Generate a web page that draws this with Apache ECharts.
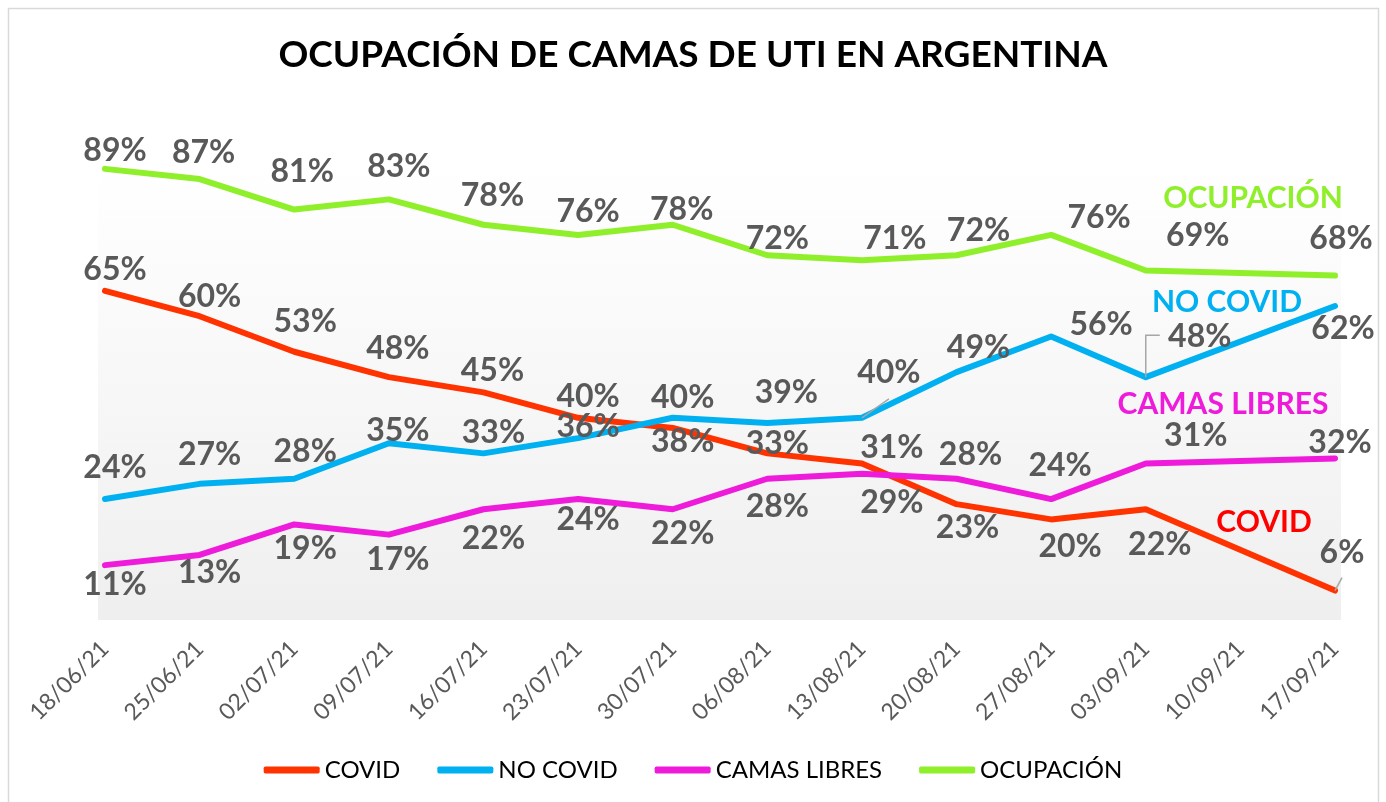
<!DOCTYPE html>
<html lang="es">
<head>
  <meta charset="UTF-8">
  <title>Ocupación de camas de UTI en Argentina</title>
  <script src="https://cdn.jsdelivr.net/npm/echarts@6.0.0/dist/echarts.min.js"></script>
  <style>
    html, body { margin: 0; padding: 0; background: #ffffff; }
    #chart { width: 1386px; height: 802px; }
  </style>
</head>
<body>
  <div id="chart"></div>
  <script>
    // datos (10/09/21 sin dato)
    var fechas = ['18/06/21', '25/06/21', '02/07/21', '09/07/21', '16/07/21', '23/07/21', '30/07/21',
                  '06/08/21', '13/08/21', '20/08/21', '27/08/21', '03/09/21', '10/09/21', '17/09/21'];
    var covid       = [65, 60, 53, 48, 45, 40, 38, 33, 31, 23, 20, 22, null, 6];
    var noCovid     = [24, 27, 28, 35, 33, 36, 40, 39, 40, 49, 56, 48, null, 62];
    var camasLibres = [11, 13, 19, 17, 22, 24, 22, 28, 29, 28, 24, 31, null, 32];
    var ocupacion   = [89, 87, 81, 83, 78, 76, 78, 72, 71, 72, 76, 69, null, 68];

    // desplazamiento de cada etiqueta respecto a su punto (solo estilo)
    var offCovid = [[10,-21],[10,-20],[11,-30],[9,-28],[9,-22],[10,-21],[10,14],[10,-10],[30,-16],[11,24],[19,27],[14,35],null,[7,-38]];
    var offNoCovid = [[10,-31],[10,-29],[11,-27],[9,-13],[10,-21],[10,-11],[10,-20],[19,-30],[27,-45],[22,-24],[50,-12],[54,-40],null,[8,23]];
    var offCamas = [[10,20],[10,18],[11,24],[9,25],[10,29],[10,21],[10,24],[10,28],[30,29],[14,-24],[9,-33],[50,-28],null,[5,-16]];
    var offOcup = [[10,-18],[4,-26],[8,-38],[10,-33],[9,-29],[10,-23],[9,-15],[10,-17],[33,-22],[22,-25],[48,-17],[52,-35],null,[6,-37]];

    var FONT = 'Lato, "Open Sans", sans-serif';

    function puntos(vals, offs) {
      return vals.map(function (v, i) {
        if (v == null) return '-';
        return { value: v, label: { offset: offs[i] } };
      });
    }

    function serie(nombre, color, vals, offs) {
      return {
        name: nombre,
        type: 'line',
        data: puntos(vals, offs),
        connectNulls: true,
        symbol: 'circle',
        symbolSize: 2,
        itemStyle: { color: color },
        lineStyle: { color: color, width: 6, cap: 'round', join: 'round' },
        label: {
          show: true,
          position: 'inside',
          formatter: '{c}%',
          fontFamily: FONT,
          fontSize: 32,
          fontWeight: 'bold',
          color: '#595959',
          align: 'center',
          verticalAlign: 'middle'
        },
        emphasis: { disabled: true },
        animation: false
      };
    }

    var myChart = echarts.init(document.getElementById('chart'));

    var option = {
      backgroundColor: '#ffffff',
      textStyle: { fontFamily: FONT },
      title: {
        text: 'OCUPACIÓN DE CAMAS DE UTI EN ARGENTINA',
        left: 'center',
        top: 37,
        padding: 0,
        textStyle: { fontFamily: FONT, fontSize: 37, fontWeight: 'bold', color: '#000000' }
      },
      legend: {
        top: 753,
        left: 'center',
        icon: 'roundRect',
        itemWidth: 56,
        itemHeight: 7,
        itemGap: 37,
        textStyle: { fontFamily: FONT, fontSize: 24, color: '#000000' },
        data: ['COVID', 'NO COVID', 'CAMAS LIBRES', 'OCUPACIÓN']
      },
      grid: { left: 105, right: 51, top: 113, bottom: 181 },
      xAxis: {
        type: 'category',
        data: fechas,
        boundaryGap: false,
        axisLine: { show: false },
        axisTick: { show: false },
        axisLabel: { rotate: 45, margin: 24, fontSize: 23, color: '#595959', fontFamily: FONT, interval: 0 }
      },
      yAxis: {
        type: 'value',
        min: 0,
        max: 100,
        show: false,
        splitLine: { show: false }
      },
      series: [
        serie('COVID', '#FF3300', covid, offCovid),
        serie('NO COVID', '#00B0F0', noCovid, offNoCovid),
        serie('CAMAS LIBRES', '#EE1CDA', camasLibres, offCamas),
        serie('OCUPACIÓN', '#8FEF2B', ocupacion, offOcup)
      ]
    };

    myChart.setOption(option);

    // fondo, marco, rótulos de series y líneas guía
    var graficos = [
      {
        type: 'rect', z: -10, silent: true,
        shape: { x: 8.5, y: 8.5, width: 1370, height: 805 },
        style: { fill: '#ffffff', stroke: '#d9d9d9', lineWidth: 1.5 }
      },
      {
        type: 'rect', z: -9, silent: true,
        shape: { x: 98, y: 168, width: 1243, height: 452 },
        style: {
          fill: new echarts.graphic.LinearGradient(0, 0, 0, 1, [
            { offset: 0, color: '#ffffff' },
            { offset: 1, color: '#efefef' }
          ])
        }
      },
      { type: 'text', z: 50, x: 1253, y: 198, style: { text: 'OCUPACIÓN', fill: '#8FEF2B', font: 'bold 30px ' + FONT, align: 'center', verticalAlign: 'middle' } },
      { type: 'text', z: 50, x: 1227, y: 302, style: { text: 'NO COVID', fill: '#00B0F0', font: 'bold 30px ' + FONT, align: 'center', verticalAlign: 'middle' } },
      { type: 'text', z: 50, x: 1223, y: 404, style: { text: 'CAMAS LIBRES', fill: '#EE1CDA', font: 'bold 30px ' + FONT, align: 'center', verticalAlign: 'middle' } },
      { type: 'text', z: 50, x: 1264, y: 522, style: { text: 'COVID', fill: '#FF0000', font: 'bold 30px ' + FONT, align: 'center', verticalAlign: 'middle' } }
    ];

    function guia(serieIdx, i, valor, tramo) {
      var p = myChart.convertToPixel({ seriesIndex: serieIdx }, [i, valor]);
      graficos.push({
        type: 'polyline', z: 40, silent: true,
        shape: { points: tramo.map(function (d) { return [p[0] + d[0], p[1] + d[1]]; }) },
        style: { stroke: '#a6a6a6', lineWidth: 1.5, fill: null }
      });
    }
    guia(1, 8, noCovid[8], [[0, 0], [27, -19]]);
    guia(1, 11, noCovid[11], [[0, 0], [0, -42], [14, -42]]);
    guia(0, 13, covid[13], [[0, 0], [7, -13]]);

    myChart.setOption({ graphic: graficos });
  </script>
</body>
</html>
